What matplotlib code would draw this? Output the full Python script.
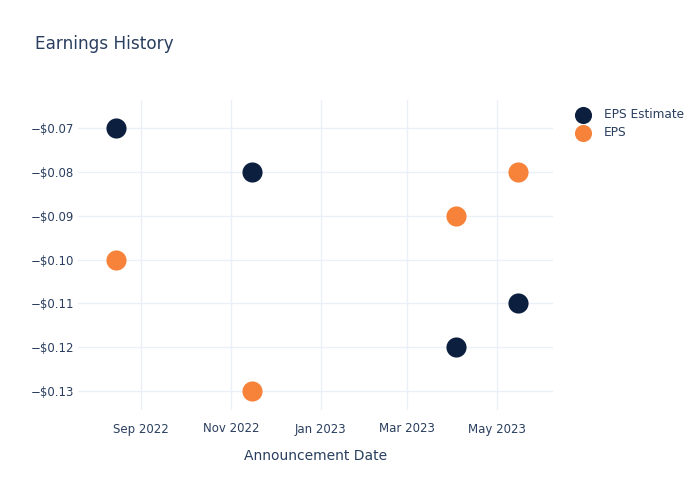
import matplotlib
matplotlib.use('Agg')
import matplotlib.pyplot as plt
import matplotlib.dates as mdates
import matplotlib.ticker as mticker
import pandas as pd

# announcement dates and values
dates = pd.to_datetime(['2022-08-15', '2022-11-15', '2023-04-03', '2023-05-15'])
eps_estimate = [-0.07, -0.08, -0.12, -0.11]
eps_actual = [-0.10, -0.13, -0.09, -0.08]

navy = '#0d1f3f'
orange = '#f7823a'
text_col = '#2a3f5f'
grid_col = '#ebf0f8'

fig = plt.figure(figsize=(7, 5), dpi=100)
ax = fig.add_axes([78/700, 1 - 410/500, (553 - 78)/700, (410 - 100)/500])

ax.scatter(dates, eps_estimate, s=210, color=navy, label='EPS Estimate', zorder=3, linewidths=0)
ax.scatter(dates, eps_actual, s=210, color=orange, label='EPS', zorder=3, linewidths=0)

ax.set_xlim(pd.Timestamp('2022-07-20'), pd.Timestamp('2023-06-08'))
ax.set_ylim(-0.1343, -0.0636)

ax.xaxis.set_major_locator(mdates.MonthLocator(bymonth=[1, 3, 5, 7, 9, 11]))
ax.xaxis.set_major_formatter(mdates.DateFormatter('%b %Y'))
ax.yaxis.set_major_locator(mticker.MultipleLocator(0.01))
ax.yaxis.set_major_formatter(mticker.FuncFormatter(lambda v, p: '\u2212$%.2f' % abs(v)))

ax.grid(True, color=grid_col, linewidth=1)
ax.set_axisbelow(True)
for s in ax.spines.values():
    s.set_visible(False)
ax.tick_params(axis='x', length=0, colors=text_col, labelsize=8.5, pad=9)
ax.tick_params(axis='y', length=0, colors=text_col, labelsize=8.5, pad=3)

ax.set_xlabel('Announcement Date', color=text_col, fontsize=10, labelpad=10)
fig.text(35/700, 1 - 44/500, 'Earnings History', color=text_col, fontsize=12.2, va='center')

leg = ax.legend(loc='upper left', bbox_to_anchor=(1.027, 0.99), frameon=False,
                fontsize=8.7, labelcolor=text_col, handletextpad=0.75,
                borderaxespad=0, labelspacing=0.45, markerscale=0.85)

fig.savefig('out.png', dpi=100)
